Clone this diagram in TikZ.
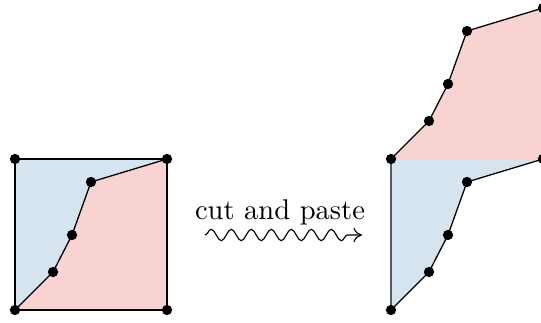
\documentclass[tikz,border=0pt]{standalone}
\usetikzlibrary{decorations.pathmorphing,arrows.meta}
\definecolor{pblue}{RGB}{214,228,239}
\definecolor{pred}{RGB}{249,210,210}
\tikzset{
  dot/.style={circle,fill=black,inner sep=0pt,minimum size=3.6pt},
  edge/.style={draw=black,line width=0.45pt},
}
\begin{document}
\begin{tikzpicture}[x=0.35pt,y=-0.35pt]
\useasboundingbox (0,0) rectangle (541,323);
\begin{scope}
\clip (0,0) rectangle (541,323);
% left square
\coordinate (A) at (15,310);
\coordinate (B) at (53,272);
\coordinate (C) at (72,235);
\coordinate (D) at (91,182);
\coordinate (E) at (167,159);
\coordinate (F) at (15,159);
\coordinate (G) at (167,310);
\fill[pblue] (A) -- (B) -- (C) -- (D) -- (E) -- (F) -- cycle;
\fill[pred] (A) -- (B) -- (C) -- (D) -- (E) -- (G) -- cycle;
\draw[edge] (F) -- (E) -- (G) -- (A) -- cycle;
\draw[edge] (A) -- (B) -- (C) -- (D) -- (E);
\foreach \p in {A,B,C,D,E,F,G} \node[dot] at (\p) {};
% right figure: blue part
\coordinate (a) at (391,310);
\coordinate (b) at (429,272);
\coordinate (c) at (448,235);
\coordinate (d) at (467,182);
\coordinate (e) at (543,159);
\coordinate (f) at (391,159);
% red part (moved up)
\coordinate (r1) at (429,121);
\coordinate (r2) at (448,84);
\coordinate (r3) at (467,31);
\coordinate (r4) at (543,8);
\fill[pblue] (a) -- (b) -- (c) -- (d) -- (e) -- (f) -- cycle;
\fill[pred] (f) -- (r1) -- (r2) -- (r3) -- (r4) -- (e) -- cycle;
\draw[edge,draw=black!65] (f) -- (a);
\draw[edge] (a) -- (b) -- (c) -- (d) -- (e);
\draw[edge] (f) -- (r1) -- (r2) -- (r3) -- (r4) -- (e);
\foreach \p in {a,b,c,d,e,f,r1,r2,r3,r4} \node[dot] at (\p) {};
\end{scope}
% label and wavy arrow
\node[font=\normalsize] (lbl) at (280,212) {cut and paste};
\coordinate (w1) at (205,235);
\coordinate (w2) at (362,235);
\draw[-{To[length=3pt,width=5pt]},line width=0.4pt,
  decorate,decoration={snake,amplitude=2pt,segment length=7pt,post length=2pt}] (w1) -- (w2);
\end{tikzpicture}
\end{document}
